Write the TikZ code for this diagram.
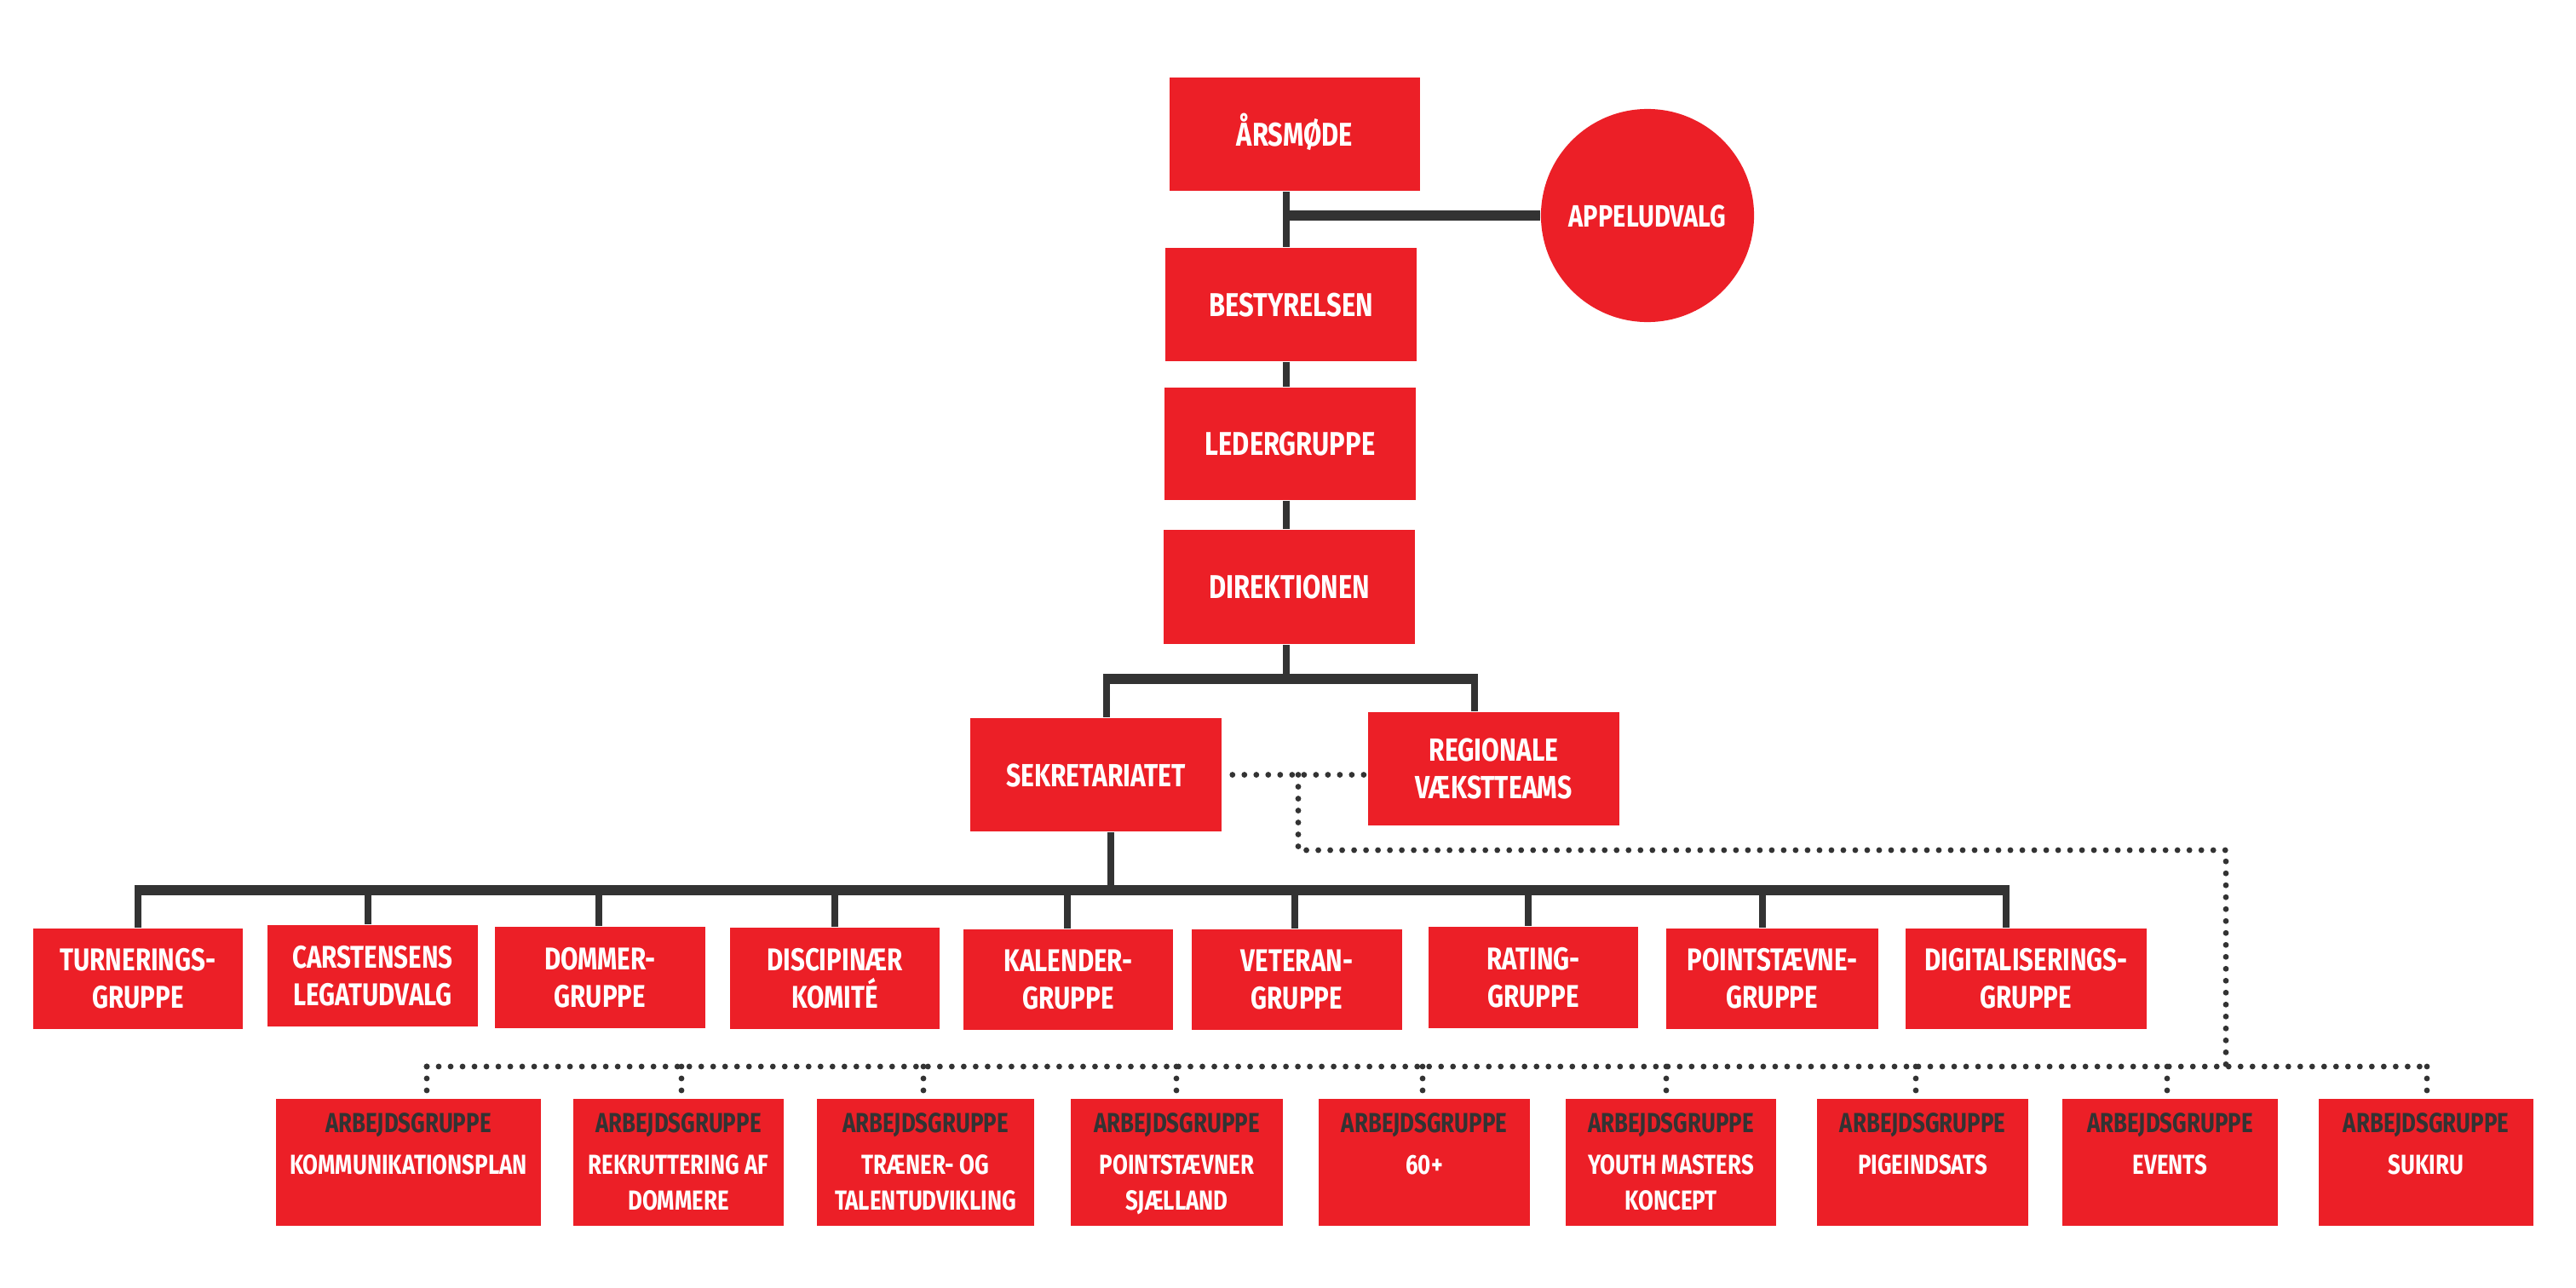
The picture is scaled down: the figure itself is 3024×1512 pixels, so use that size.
\documentclass[tikz,border=0pt]{standalone}
\usepackage{fontspec}
\setmainfont{Fira Sans}[FakeStretch=0.8]
\usetikzlibrary{calc}
\definecolor{boxred}{RGB}{236,31,39}
\definecolor{linegray}{RGB}{51,51,51}
\newcommand\wbox[2]{\parbox[c][1.49cm][t]{#1}{\centering\rule{0pt}{0.40cm}{\color{linegray}ARBEJDSGRUPPE}\\[0.075cm]#2}}
\begin{document}
\begin{tikzpicture}[x=0.01cm,y=-0.01cm,
  box/.style={fill=boxred, draw=none, inner sep=0pt, text=white, align=center,
    font=\fontsize{11pt}{12.5pt}\selectfont\bfseries},
  one/.style={text height=0.27cm, text depth=0pt},
  topbox/.style={box, one, minimum width=2.95cm, minimum height=1.33cm},
  sub/.style={box, font=\fontsize{10.5pt}{12.5pt}\selectfont\bfseries, minimum width=2.47cm, minimum height=1.18cm},
  work/.style={fill=boxred, inner sep=0pt, anchor=north, text=white,
    font=\fontsize{9.2pt}{11.8pt}\selectfont\bfseries},
  conn/.style={draw=linegray, line width=0.08cm},
  bar/.style={draw=linegray, line width=0.12cm},
  dots/.style={draw=linegray, line width=0.068cm, line cap=round, dash pattern=on 0pt off 0.14cm},
]
\useasboundingbox (0,0) rectangle (3024,1512);

% top chain
\node[topbox, minimum width=2.94cm] (arsmode) at (1520,157.5) {ÅRSMØDE};
\node[topbox] (bestyrelsen) at (1515.5,357.5) {BESTYRELSEN};
\node[topbox, minimum height=1.32cm] (ledergruppe) at (1514.5,521) {LEDERGRUPPE};
\node[topbox, minimum height=1.34cm] (direktionen) at (1513.5,689) {DIREKTIONEN};
\node[circle, fill=boxred, minimum size=2.5cm, inner sep=0pt, text=white, one,
  font=\fontsize{10.3pt}{12.5pt}\selectfont\bfseries] (appel) at (1934,253) {APPELUDVALG};

\node[box, minimum width=2.95cm, minimum height=1.33cm, font=\fontsize{10.7pt}{12.5pt}\selectfont\bfseries, one] (sek) at (1286.5,909.5) {SEKRETARIATET};
\node[box, minimum width=2.95cm, minimum height=1.33cm, font=\fontsize{10.7pt}{12.5pt}\selectfont\bfseries] (reg) at (1753.5,902.5) {REGIONALE\\VÆKSTTEAMS};

% second level
\node[sub, minimum width=2.46cm] (turn) at (162,1149) {TURNERINGS-\\GRUPPE};
\node[sub, minimum height=1.19cm] (cars) at (437.5,1145.5) {CARSTENSENS\\LEGATUDVALG};
\node[sub, minimum height=1.19cm] (dommer) at (704.5,1147.5) {DOMMER-\\GRUPPE};
\node[sub, minimum width=2.46cm, minimum height=1.19cm] (disc) at (980,1148.5) {DISCIPINÆR\\KOMITÉ};
\node[sub, minimum width=2.46cm] (kal) at (1254,1150) {KALENDER-\\GRUPPE};
\node[sub] (vet) at (1522.5,1150) {VETERAN-\\GRUPPE};
\node[sub, minimum width=2.46cm, minimum height=1.19cm] (rat) at (1800,1147.5) {RATING-\\GRUPPE};
\node[sub, minimum width=2.49cm] (pst) at (2080.5,1149) {POINTSTÆVNE-\\GRUPPE};
\node[sub, minimum width=2.83cm] (dig) at (2378.5,1149) {DIGITALISERINGS-\\GRUPPE};

% working groups
\node[work] (w1) at (479.5,1289) {\wbox{3.11cm}{KOMMUNIKATIONSPLAN}};
\node[work] (w2) at (796.5,1289) {\wbox{2.47cm}{REKRUTTERING AF\\DOMMERE}};
\node[work] (w3) at (1086.5,1289) {\wbox{2.55cm}{TRÆNER- OG\\TALENTUDVIKLING}};
\node[work] (w4) at (1381.5,1289) {\wbox{2.49cm}{POINTSTÆVNER\\SJÆLLAND}};
\node[work] (w5) at (1672,1289) {\wbox{2.48cm}{60+}};
\node[work] (w6) at (1961.5,1289) {\wbox{2.47cm}{YOUTH MASTERS\\KONCEPT}};
\node[work] (w7) at (2257,1289) {\wbox{2.48cm}{PIGEINDSATS}};
\node[work] (w8) at (2547.5,1289) {\wbox{2.53cm}{EVENTS}};
\node[work] (w9) at (2848,1289) {\wbox{2.52cm}{SUKIRU}};

% solid connectors
\coordinate (spine) at (1510,0);
\draw[conn] (arsmode.south -| spine) -- (bestyrelsen.north -| spine);
\draw[conn] (bestyrelsen.south -| spine) -- (ledergruppe.north -| spine);
\draw[conn] (ledergruppe.south -| spine) -- (direktionen.north -| spine);
\draw[bar] (spine |- appel) -- (appel.west);

\coordinate (b1L) at (1295,797);
\coordinate (b1R) at (1735,797);
\draw[conn] (direktionen.south -| spine) -- (spine |- b1L);
\draw[bar] (b1L) -- (b1R);
\coordinate (sdrop) at (1299,797);
\coordinate (rdrop) at (1731,797);
\draw[conn] (sdrop) -- (sdrop |- sek.north);
\draw[conn] (rdrop) -- (rdrop |- reg.north);

\coordinate (b2L) at (158,1044.5);
\coordinate (b2R) at (2359,1044.5);
\coordinate (sdown) at (1304,1044.5);
\draw[conn] (sdown |- sek.south) -- (sdown);
\draw[bar] (b2L) -- (b2R);
\foreach \n/\x in {turn/162, cars/432, dommer/703, disc/980, kal/1253, vet/1520, rat/1794, pst/2069, dig/2355}{
  \coordinate (d\n) at (\x,1044.5);
  \draw[conn] (d\n) -- (d\n |- \n.north);
}

% dotted connectors
\draw[dots] ($(sek.east)+(12,0)$) -- (sek.east -| reg.west);
\coordinate (k0) at (1524,909.5);
\coordinate (k1) at (1524,998);
\coordinate (k2) at (2613,998);
\coordinate (k3) at (2613,1252);
\draw[dots] (k0) -- (k1) -- (k2) -- (k3);
\coordinate (wL) at (501,1252);
\coordinate (wR) at (2849,1252);
\draw[dots] (wL) -- (wR);
\foreach \n/\x in {w1/501, w2/800, w3/1084, w4/1381, w5/1670, w6/1956, w7/2249, w8/2544, w9/2849}{
  \coordinate (e\n) at (\x,1252);
  \draw[dots] (e\n) -- ($(e\n |- \n.north)+(0,-6)$);
}
\end{tikzpicture}
\end{document}
